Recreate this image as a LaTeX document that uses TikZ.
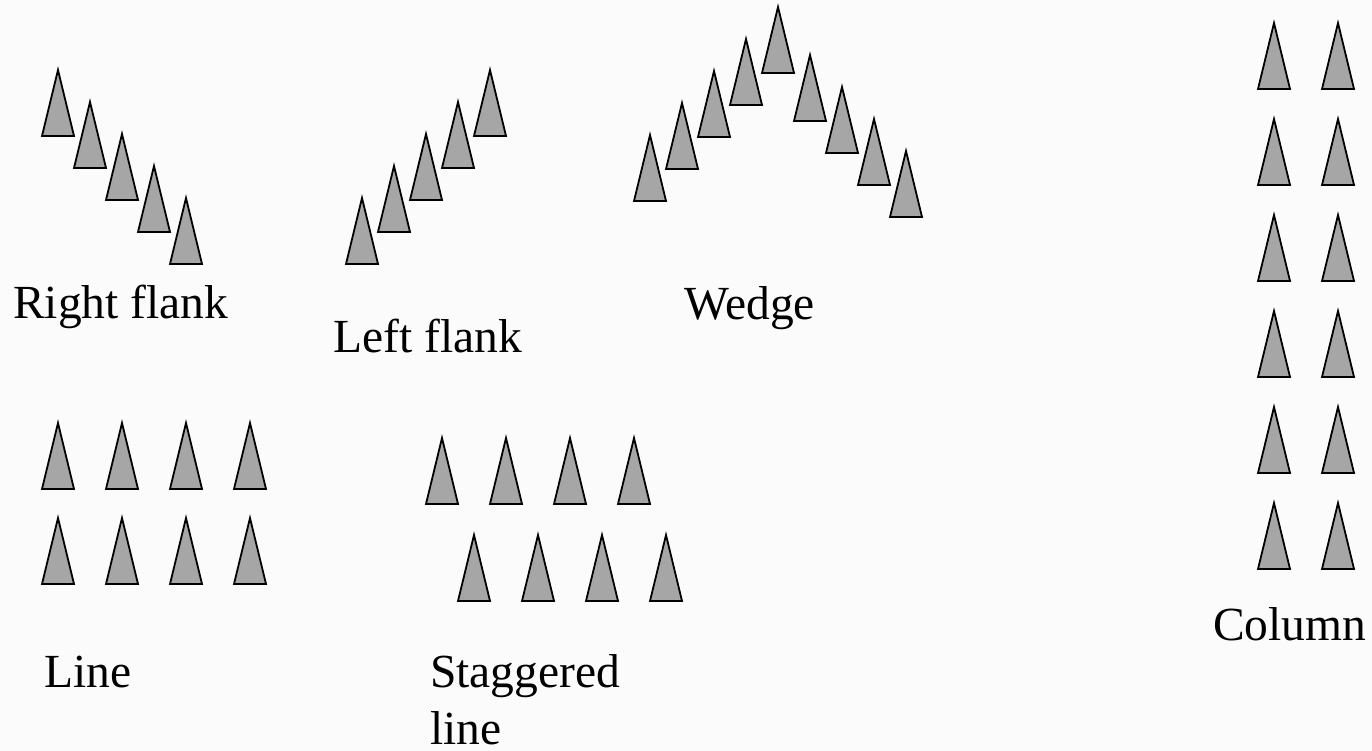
\documentclass[tikz,border=0pt]{standalone}
\usepackage{fontspec}
\setmainfont{Liberation Serif}
\definecolor{trifill}{RGB}{166,166,166}
\definecolor{bgcol}{RGB}{251,251,251}
\begin{document}
\begin{tikzpicture}[x=1pt,y=-1pt,
  tri/.pic={\draw[line width=1.8pt, fill=trifill, line join=miter] (0,0) -- (16,66) -- (-16,66) -- cycle;},
  lbl/.style={anchor=base west, inner sep=0pt, font=\fontsize{47.5}{57}\selectfont}]
\fill[bgcol] (0,0) rectangle (1372,751);
\useasboundingbox (0,0) rectangle (1372,751);
% Right flank
\foreach \i in {0,...,4} \pic at ({58+32*\i},{70+32*\i}) {tri};
% Left flank
\foreach \i in {0,...,4} \pic at ({362+32*\i},{198-32*\i}) {tri};
% Wedge
\foreach \i in {0,...,4} \pic at ({650+32*\i},{135-32*\i}) {tri};
\foreach \i in {0,...,3} \pic at ({810+32*\i},{55+32*\i}) {tri};
% Line
\foreach \x in {58,122,186,250} {
  \pic at (\x,423) {tri};
  \pic at (\x,518) {tri};
}
% Staggered line
\foreach \x in {442,506,570,634} \pic at (\x,438) {tri};
\foreach \x in {474,538,602,666} \pic at (\x,535) {tri};
% Column
\foreach \y in {23,119,215,311,407,503} {
  \pic at (1274,\y) {tri};
  \pic at (1338,\y) {tri};
}
% Labels
\node[lbl] (rf) at (13,318) {Right flank};
\node[lbl] (lf) at (333,352) {Left flank};
\node[lbl] (wd) at (684,319) {Wedge};
\node[lbl] (ln) at (44,687) {Line};
\node[lbl, align=left] (sl) at (430,744) {Staggered\\line};
\node[lbl] (cl) at (1213,640) {Column};
\end{tikzpicture}
\end{document}
